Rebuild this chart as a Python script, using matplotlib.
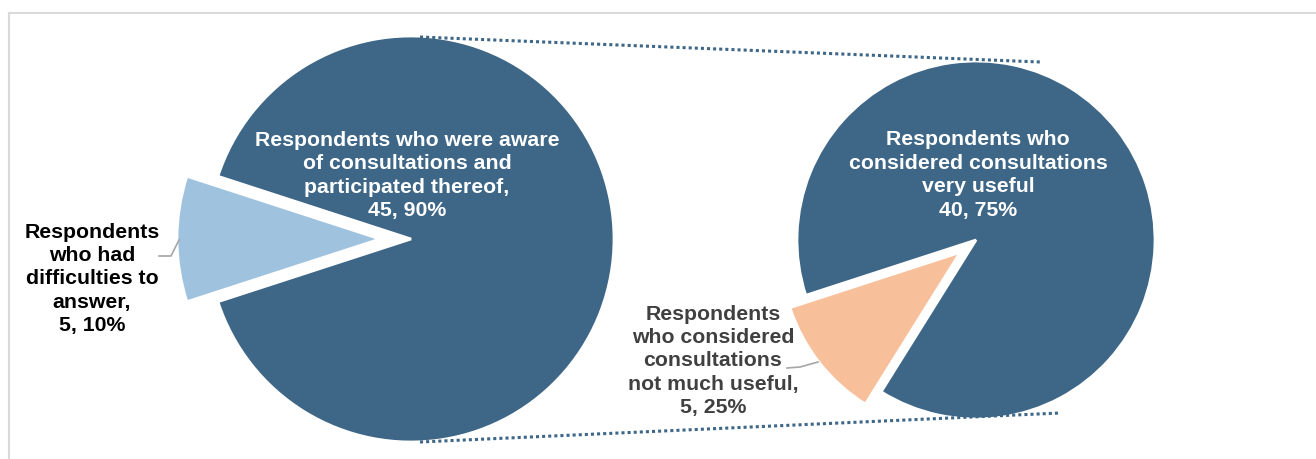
import matplotlib
matplotlib.use("Agg")
import matplotlib.pyplot as plt

plt.rcParams["font.family"] = ["Liberation Sans", "DejaVu Sans"]

# data
left_values = [45, 5]
left_labels = ["Respondents who were aware\nof consultations and\nparticipated thereof,\n45, 90%",
               "Respondents\nwho had\ndifficulties to\nanswer,\n5, 10%"]
right_values = [40, 5]
right_labels = ["Respondents who\nconsidered consultations\nvery useful\n40, 75%",
                "Respondents\nwho considered\nconsultations\nnot much useful,\n5, 25%"]

DARK = "#3d6687"
LIGHT = "#9fc2df"
ORANGE = "#f8bf9b"
W, H = 1316, 459

fig = plt.figure(figsize=(W / 100, H / 100), dpi=100)
ax = fig.add_axes([0, 0, 1, 1])

# explode is in data units here (pixels), since radius is in pixels too
wp = dict(edgecolor="white", linewidth=2)
ax.pie(left_values, colors=[DARK, LIGHT], startangle=198, explode=[0, 31],
       radius=203, center=(411, H - 239), frame=True, wedgeprops=wp)
ax.pie(right_values, colors=[DARK, ORANGE], startangle=238, explode=[0, 20],
       radius=179, center=(976, H - 240), frame=True, wedgeprops=wp)

# connector lines between the pies
ax.plot([420, 1040], [H - 37, H - 62], color=DARK, lw=2.2, ls=(0, (1, 1)))
ax.plot([420, 1060], [H - 442, H - 413], color=DARK, lw=2.2, ls=(0, (1, 1)))

# leader lines
ax.plot([159, 171, 179], [H - 256, H - 256, H - 240], color="#a6a6a6", lw=1.2)
ax.plot([787, 800, 818], [H - 368, H - 367, H - 362], color="#a6a6a6", lw=1.2)

tk = dict(ha="center", va="center", fontsize=15.3, fontweight="bold", linespacing=1.3)
ax.text(407, H - 175.5, left_labels[0], color="white", **tk)
ax.text(92, H - 279, left_labels[1], color="black", **tk)
ax.text(978, H - 175, right_labels[0], color="white", **tk)
ax.text(713, H - 361, right_labels[1], color="#404040", **tk)

# chart area border
ax.plot([9, W], [H - 12.5, H - 12.5], color="#d9d9d9", lw=1.5)
ax.plot([9, 9], [H - 12.5, 0], color="#d9d9d9", lw=1.5)

ax.set_xlim(0, W)
ax.set_ylim(0, H)
ax.set_aspect("equal")
ax.axis("off")

fig.savefig("out.png", dpi=100)
